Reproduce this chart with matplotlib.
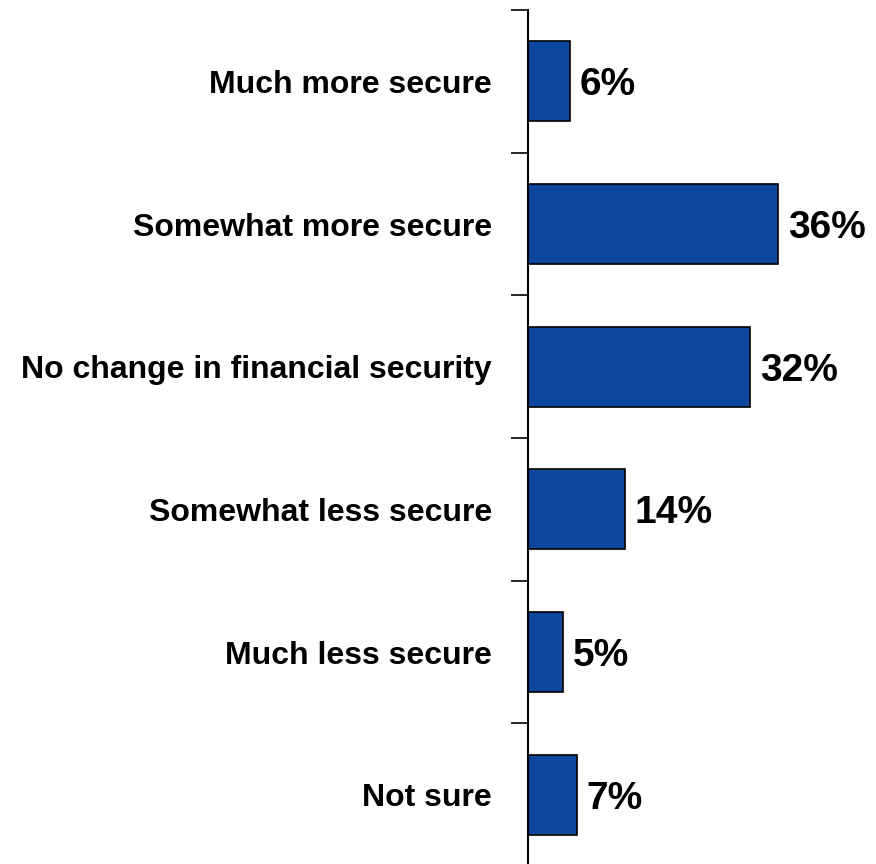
import matplotlib
matplotlib.use("Agg")
import matplotlib.pyplot as plt

categories = ["Much more secure", "Somewhat more secure", "No change in financial security",
              "Somewhat less secure", "Much less secure", "Not sure"]
values = [6, 36, 32, 14, 5, 7]

plt.rcParams['font.family'] = ['Liberation Sans', 'DejaVu Sans']

fig = plt.figure(figsize=(8.76, 8.64), dpi=100)
ax = fig.add_axes([528 / 876, -2 / 864, 348 / 876, 856 / 864])

pos = list(range(len(categories)))
ax.barh(pos, values, height=0.56, color='#0E479E', edgecolor='black', linewidth=1.2)

for p, v in zip(pos, values):
    ax.annotate(f"{v}%", (v, p), xytext=(7, 0), textcoords='offset points',
                va='center_baseline', ha='left', fontsize=28, fontweight='bold')

ax.set_xlim(0, 50.1)
ax.set_ylim(len(categories) - 0.5, -0.5)

# ticks sit between categories, labels at the bar centres
ax.set_yticks([p - 0.5 for p in pos] + [len(categories) - 0.5])
ax.set_yticklabels([])
ax.set_yticks(pos, minor=True)
ax.set_yticklabels(categories, minor=True, fontsize=23, fontweight='bold')
ax.tick_params(axis='y', which='major', length=12, width=1.2)
ax.tick_params(axis='y', which='minor', length=0, pad=26)

ax.set_xticks([])
for s in ['top', 'right', 'bottom']:
    ax.spines[s].set_visible(False)
ax.spines['left'].set_linewidth(1.5)

fig.savefig("out.png", dpi=100)
